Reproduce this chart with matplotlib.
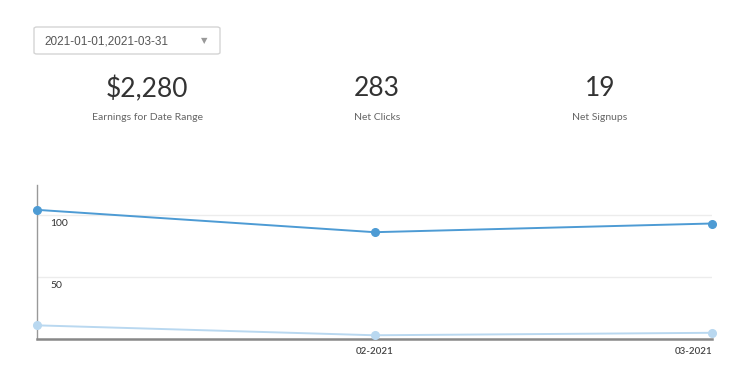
import matplotlib.pyplot as plt
from matplotlib.patches import FancyBboxPatch
from matplotlib.transforms import blended_transform_factory

# summary figures
date_range = "2021-01-01,2021-03-31"
metric_values = ["$2,280", "283", "19"]
metric_labels = ["Earnings for Date Range", "Net Clicks", "Net Signups"]

# monthly series
months = ["01-2021", "02-2021", "03-2021"]
clicks = [104, 86, 93]
signups = [11, 3, 5]
y_ticks = [50, 100]

plt.rcParams["font.family"] = ["Lato", "DejaVu Sans"]

fig = plt.figure(figsize=(7.54, 3.86), dpi=100)
W, H = 754, 386

# date picker box
box = FancyBboxPatch((34 / W, 1 - 54 / H), 186 / W, 27 / H,
                     boxstyle="round,pad=0,rounding_size=0.004",
                     transform=fig.transFigure, facecolor="white",
                     edgecolor="#d4d4d4", linewidth=1.0)
fig.patches.append(box)
fig.text(44 / W, 1 - 41 / H, date_range, fontsize=8.5, color="#555555",
         family="Liberation Sans", va="center", ha="left")
fig.text(204 / W, 1 - 41 / H, "\u25BC", fontsize=6, color="#999999",
         family="DejaVu Sans", va="center", ha="center")

# metrics
for cx, val, lab in zip([147, 377, 600], metric_values, metric_labels):
    fig.text(cx / W, 1 - 89 / H, val, fontsize=19, color="#333333",
             ha="center", va="center")
    fig.text(cx / W, 1 - 118 / H, lab, fontsize=7.5, color="#666666",
             ha="center", va="center")

# chart
ax = fig.add_axes([37 / W, 47 / H, (712 - 37) / W, (339 - 185) / H])
x = list(range(len(months)))
ax.plot(x, clicks, color="#4d9bd4", linewidth=1.4, marker="o",
        markersize=5.5, clip_on=False, zorder=3)
ax.plot(x, signups, color="#b9d8f0", linewidth=1.4, marker="o",
        markersize=5.5, clip_on=False, zorder=3)

ax.set_xlim(0, len(months) - 1)
ax.set_ylim(0, 124)
ax.set_yticks(y_ticks)
ax.set_yticklabels([])
ax.tick_params(axis="y", length=0)
ax.grid(axis="y", color="#ececec", linewidth=1.0)
ax.set_axisbelow(True)

trans = blended_transform_factory(ax.transAxes, ax.transData)
for v in y_ticks:
    ax.text(13 / (712 - 37), v - 3, str(v), transform=trans, fontsize=7.5,
            color="#333333", ha="left", va="top")

ax.set_xticks(x[1:])
ax.set_xticklabels(months[1:], fontsize=7, color="#444444", fontweight="semibold")
ax.tick_params(axis="x", length=0, pad=6)
ax.get_xticklabels()[-1].set_ha("right")

for s in ["top", "right"]:
    ax.spines[s].set_visible(False)
ax.spines["left"].set_color("#999999")
ax.spines["left"].set_linewidth(1.0)
ax.spines["bottom"].set_color("#888888")
ax.spines["bottom"].set_linewidth(1.8)

fig.savefig("out.png", dpi=100)
